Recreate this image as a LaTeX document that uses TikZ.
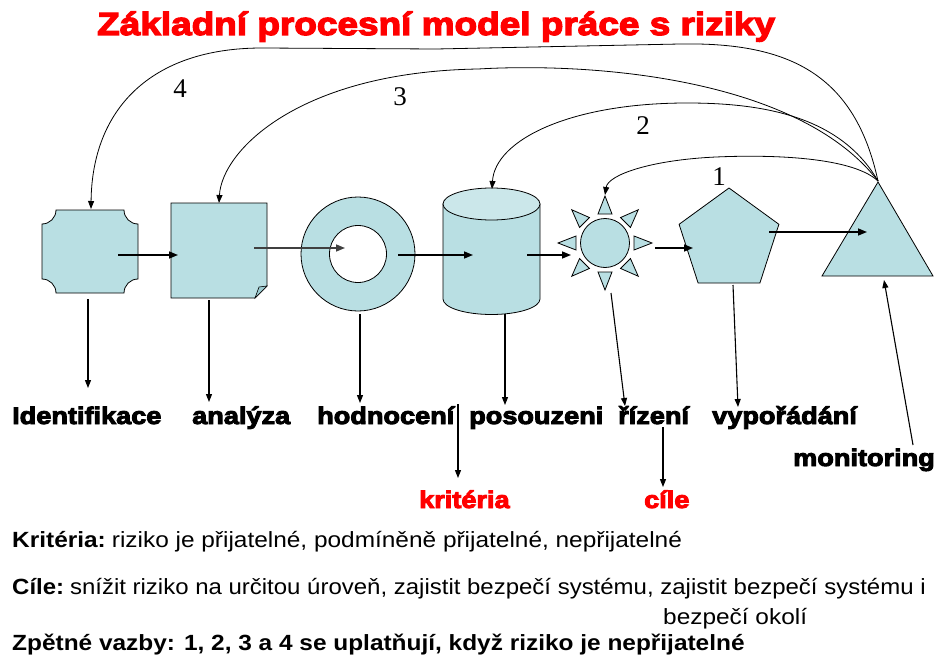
\documentclass[tikz,border=0pt]{standalone}
\usepackage{fontspec}
\setmainfont{Liberation Sans}
\newfontfamily\heavyfont[FakeStretch=1.13,FakeBold=4]{Liberation Sans Bold}
\newfontfamily\titlefont[FakeStretch=1.155,FakeBold=4]{Liberation Sans Bold}
\newfontfamily\txtfont{Liberation Sans}[FakeStretch=1.11]
\newfontfamily\txtnarrowfont{Liberation Sans}[FakeStretch=1.09]
\newfontfamily\numfont{Liberation Serif}
\usetikzlibrary{arrows.meta}
\definecolor{shapefill}{HTML}{B9DFE3}
\definecolor{shapetop}{HTML}{CBE7EA}
\definecolor{flapfill}{HTML}{9CCBD1}
\definecolor{titlered}{HTML}{FF0000}
\definecolor{darkline}{HTML}{404040}
\tikzset{
  shp/.style={draw=black, line width=0.8pt, fill=shapefill, line join=miter},
  fb/.style={draw=black, line width=0.8pt, -{Triangle[length=8pt,width=6pt]}},
  flow/.style={line width=1.5pt, -{Triangle[length=9pt,width=7pt]}},
  down/.style={line width=1.1pt, -{Triangle[length=8pt,width=6pt]}},
  lbl/.style={anchor=base west, inner sep=0pt, font=\heavyfont\fontsize{24}{28}\selectfont},
  num/.style={inner sep=0pt, font=\numfont\fontsize{27}{30}\selectfont},
  txt/.style={anchor=base west, inner sep=0pt, font=\txtfont\fontsize{22}{26}\selectfont}
}
\begin{document}
\begin{tikzpicture}[x=1pt,y=-1pt]
\useasboundingbox[fill=white] (0,0) rectangle (936,658);

% title
\node[anchor=base west, inner sep=0pt, text=titlered, font=\titlefont\fontsize{32}{36}\selectfont] (title) at (97,35) {Základní procesní model práce s riziky};

% 1 plaque
\draw[shp] (56,210) -- (124,210) .. controls (124,217.7) and (130.3,224) .. (138,224)
  -- (138,279) .. controls (130.3,279) and (124,285.3) .. (124,293)
  -- (56,293) .. controls (56,285.3) and (49.7,279) .. (42,279)
  -- (42,224) .. controls (49.7,224) and (56,217.7) .. (56,210) -- cycle;
% 2 folded square
\draw[shp] (171,203) -- (267,203) -- (267,286) -- (255,298) -- (171,298) -- cycle;
\draw[shp, fill=flapfill, line width=0.6pt] (255,298) -- (259,287) -- (267,286) -- cycle;
% 3 donut
\fill[shapefill, even odd rule] (358,254) circle[radius=57pt] (358,254) circle[radius=28.5pt];
\draw[line width=0.8pt] (358,254) circle[radius=57pt];
\draw[line width=0.8pt] (358,254) circle[radius=28.5pt];
% 4 cylinder
\draw[shp] (443,204) -- (443,299) arc[start angle=180, end angle=360, x radius=48.5pt, y radius=15.5pt] -- (540,204) -- cycle;
\draw[shp, fill=shapetop] (491.5,204) ellipse[x radius=48.5pt, y radius=16pt];
% 5 sun
\draw[shp] (605,243) circle[radius=24.5pt];
\begin{scope}[shift={(605,243)}]
  \foreach \a in {0,45,...,315} {
    \draw[shp, rotate=\a] (29,-7) -- (47,0) -- (29,7) -- cycle;
  }
\end{scope}
% 6 pentagon
\draw[shp] (729,188) -- (778.9,224.3) -- (759.9,283) -- (698.1,283) -- (679.1,224.3) -- cycle;
% 7 triangle
\draw[shp] (878,182) -- (933,276) -- (822,276) -- cycle;

% named points
\coordinate (apex) at (878,181);
\coordinate (tgt4) at (91,209);
\coordinate (tgt3) at (219,203);
\coordinate (tgt2) at (492,189);
\coordinate (tgt1) at (605,195);

% feedback arcs
\draw[fb] (apex) .. controls (855,75) and (790,42) .. (680,44) -- (436,49) -- (262,48) .. controls (150,48) and (92,110) .. (tgt4);
\draw[fb] (apex) .. controls (800,80) and (600,62) .. (478,69) .. controls (300,72) and (222,150) .. (tgt3);
\draw[fb] (apex) .. controls (840,115) and (760,103) .. (687,103) .. controls (570,103) and (495,140) .. (tgt2);
\draw[fb] (apex) .. controls (850,155) and (760,155) .. (716,157) .. controls (650,160) and (608,175) .. (tgt1);

\node[num] (n4) at (180,89) {4};
\node[num] (n3) at (400,97) {3};
\node[num] (n2) at (643,126) {2};
\node[num] (n1) at (719,177) {1};

% flow arrows
\coordinate (f1a) at (118,255); \coordinate (f1b) at (178,255);
\coordinate (f2a) at (254,248); \coordinate (f2b) at (345,248);
\coordinate (f3a) at (398,255); \coordinate (f3b) at (473,255);
\coordinate (f4a) at (527,255); \coordinate (f4b) at (571,255);
\coordinate (f5a) at (655,248); \coordinate (f5b) at (693,248);
\coordinate (f6a) at (769,232); \coordinate (f6b) at (867,232);
\draw[flow] (f1a) -- (f1b);
\draw[flow, draw=darkline, fill=darkline] (f2a) -- (f2b);
\draw[flow] (f3a) -- (f3b);
\draw[flow] (f4a) -- (f4b);
\draw[flow] (f5a) -- (f5b);
\draw[flow] (f6a) -- (f6b);

% labels
\node[lbl] (identifikace) at (12,424) {Identifikace};
\node[lbl] (analyza) at (192,424) {analýza};
\node[lbl] (hodnoceni) at (317,424) {hodnocení};
\node[lbl] (posouzeni) at (469,424) {posouzeni};
\node[lbl] (rizeni) at (618,424) {řízení};
\node[lbl] (vyporadani) at (712,424) {vypořádání};
\node[lbl, anchor=base east] (monitoring) at (935,466) {monitoring};
\node[lbl, text=titlered] (kriteria) at (419,508) {kritéria};
\node[lbl, text=titlered] (cile) at (644,508) {cíle};

% vertical connectors
\coordinate (d1a) at (88,299);  \coordinate (d1b) at (88,388);
\coordinate (d2a) at (209,300); \coordinate (d2b) at (209,402);
\coordinate (d3a) at (360,314); \coordinate (d3b) at (360,403);
\coordinate (d4a) at (505,314); \coordinate (d4b) at (505,405);
\coordinate (d5a) at (611,293); \coordinate (d5b) at (625,406);
\coordinate (d6a) at (733,285); \coordinate (d6b) at (738,407);
\coordinate (d7a) at (913,445); \coordinate (d7b) at (884,280);
\coordinate (d8a) at (458,404); \coordinate (d8b) at (458,478);
\coordinate (d9a) at (663,427); \coordinate (d9b) at (663,487);
\draw[down] (d1a) -- (d1b);
\draw[down] (d2a) -- (d2b);
\draw[down] (d3a) -- (d3b);
\draw[down] (d4a) -- (d4b);
\draw[down] (d5a) -- (d5b);
\draw[down] (d6a) -- (d6b);
\draw[down] (d7a) -- (d7b);
\draw[down] (d8a) -- (d8b);
\draw[down] (d9a) -- (d9b);

% bottom text
\node[txt] (t1) at (12,547) {{\bfseries Kritéria:}\hspace{-3pt} riziko je přijatelné, podmíněně přijatelné, nepřijatelné};
\node[txt, font=\txtnarrowfont\fontsize{22}{26}\selectfont] (t2) at (12,594) {{\bfseries Cíle:}\hspace{-3pt} snížit riziko na určitou úroveň, zajistit bezpečí systému, zajistit bezpečí systému i};
\node[txt] (t3) at (663,624) {bezpečí okolí};
\node[txt, font=\txtfont\bfseries\fontsize{22}{26}\selectfont] (t4) at (12,650) {Zpětné vazby: 1, 2, 3 a 4 se uplatňují, když riziko je nepřijatelné};
\end{tikzpicture}
\end{document}
